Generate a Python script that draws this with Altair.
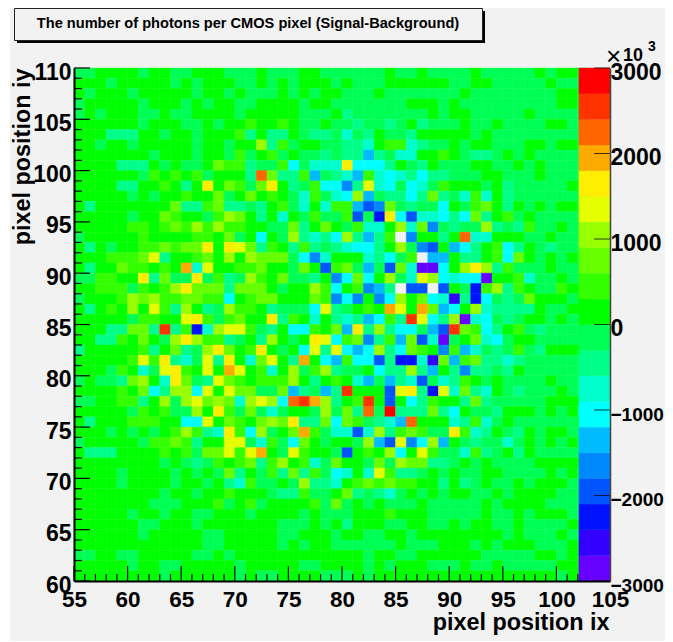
import altair as alt
import pandas as pd

LEFT = [
"--....-..--...---.---..-",
"...-.....-.-...--.-.-...",
".-...-.....-..-.---.-.-.",
"-.....-...-.-..--....-..",
"-.-...--.--....-.....---",
"......-...--.-..1..1.--.",
"...===..-..-...1=.==.-==",
"..-..-.....-..-..3=1-..-",
".......-...-..-1-.1-.--=",
"....===.-.--.211=--1c-hh",
"......-1.1.1-...=72==1f-",
"....==..1.=.5.21-25.=-1c",
".....-.-..1..2-.2.1.-h1-",
".=.......2==12==-=.1-h.h",
".....-..21..-132.=.h.-1-",
".....11.12131311..--2=.2",
"-.....1....11.2-.c.-3=h=",
".=.-..1121225.542=1.=1=-",
"...11124=..12.3.3222-ceh",
".=..211.1.6h4..112..-2.d",
"--11..5=2--5-1=-31.2--=.",
"..111-1.135222=222.-..31",
"-...1323112211c.122...21",
".=.1.3.41=3.=-311.=---c4",
".....-11..451-12..5=1.h.",
"...==22=8=1bh3441-=.cc1.",
"..==1.2.-35311=-.=3.-.54",
"=.....1=.2=-352.15.-.c4=",
".....1415=h-4=5.h24.=6.c",
"...-1.h-451.4.64.1h.3-13",
"-.--=23.h52-=421.1113.=.",
"....1.2c=33c4.422--2f=-f",
"--..11=.3-34232h343c7863",
".....-1.1--3.51-2-h-..-3",
".=...111..cc4.21.2325==2",
"...-.-.-.131=h51c3-.261-",
"-.....-1121=..44-h1-c2.-",
".===....1.1-224146.-41..",
"........-.-=-1.12=13.1h-",
"....-....-.-.-2=.-1=2=1-",
"....-....-..-.=h1--.-3==",
"........-..-..1...-==1--",
".......---...1-.1-....1-",
".....-..-..--...-....-.-",
"......--...-.......---.-",
"......-.....--.....--...",
"............--.....-.-..",
"--..--.....--.-.........",
".....-..--.....-.....--.",
"........-......-.--....-",
]

RIGHT = [
"-----.--.----.-----.-..-",
"-.---......--..-----.---",
".---.-------.--------..-",
"-------...-.---------..-",
".=-------.-..-----.-----",
"--=--=-.=---.--.----..--",
"-h-=.--=.....-.---------",
"-==h.11h=--.-..---..-..-",
"-==f=-hh..1.-==-.-.-----",
"h5ccc=.-=.---..--.-.----",
"=hf1hch=c==---..---.----",
"ce=4hc-ch-1...-.=-----.-",
"hc3f-==c=2=-h1h.=-------",
"11fde2-=--c.-12.=.-.-..-",
"-1d-b5cdhhc=c2=.1-.-----",
".-1hh.3h2e-=--3=-=1--.--",
"c3=f=1we..=.7hh...--.---",
"=hcc=.3-ed.fc=.1c=.-=---",
"...h=c-1wff.==.1c2.-.-.-",
"12-f-d2hvvc.353=1---.---",
"ec2c.3-h43chccv..1h--.--",
"c.1ef=wddwd.-b13=1.--1..",
"ece.ec3.2chp=bc-=-2...-.",
"=-.1.64.62fc.3h====.--..",
"=h=fc1=84c=3vhc-=-..-.--",
"2f5=3=cc-fd821c=.1-=----",
"c12e=1f2dhv-.2hc-..-----",
"4cfc3=c21.e1fh-=-1-=....",
"f1ccd=bbhp2f12==h=------",
"=--.c==3=f.=e==-=.------",
"1.hf-f=hd-h=1.-.----.---",
"=8...d45=b4h2=h.-=---.--",
"=.18.d.c=1..=2=-----....",
"-2=7-9===2=c.--=...-.-.-",
"c21-=hf7...h=1h-.------.",
"hhdh3=121--51h=.-=.-..--",
"..-3fd4ec3f.-=--h-.-.-.-",
"-d.1.3c.41--h1=-.=.-----",
"2..-2-322==-.-.----.....",
"ch.h41==-.-.--..----.-.-",
"h.121211..=.=-.--.-...--",
".2=-=h-.-.-..--.-....---",
"2-.-.---.-----.-....----",
"--...1...-----.--.-...--",
".=...--..--.-..--.----..",
"-..--..-........-.---.--",
"------.---...-.-...---..",
"...-..--......-----..-..",
"...-.-...---.--.-----...",
"--.-.................-..",
]

LEVEL_KEYS = "wvpbdefch=-.123456789"
LEVEL_VALUES = [-3300] + [-3150 + 300 * i for i in range(1, len(LEVEL_KEYS))]
VALUE_OF = dict(zip(LEVEL_KEYS, LEVEL_VALUES))

THRESHOLDS = [-3000, -2700, -2400, -2100, -1800, -1500, -1200, -900, -600, -300,
              0, 300, 600, 900, 1200, 1500, 1800, 2100, 2400, 2700]
COLOURS = ["#f2f2f2", "#6600ff", "#3300ff", "#0011ff", "#0055ff", "#0088ff", "#00bbff",
           "#00ffff", "#00ffcc", "#00ff88", "#00ff55", "#00ff00", "#33ff00", "#66ff00",
           "#99ff00", "#e6ff00", "#ffee00", "#ffaa00", "#ff6600", "#ff3300", "#ff0000"]

cells = []
for r, (a, b) in enumerate(zip(LEFT, RIGHT)):
    for k, ch in enumerate(a + b):
        cells.append({"x0": 55 + k, "x1": 56 + k, "y0": 109 - r, "y1": 110 - r, "v": VALUE_OF[ch]})
df = pd.DataFrame(cells)

bar = pd.DataFrame({"lo": THRESHOLDS,
                    "hi": THRESHOLDS[1:] + [3000],
                    "x0": [102.1] * 20, "x1": [105] * 20})
bar["v"] = bar["lo"] + 150

FONT = "Liberation Sans"
W, H = 536, 513
xs = alt.Scale(domain=[55, 105], nice=False, zero=False)
ys = alt.Scale(domain=[60, 110], nice=False, zero=False)
zs = alt.Scale(domain=[-3000, 3000], nice=False, zero=False)
cs = alt.Scale(type="threshold", domain=THRESHOLDS, range=COLOURS)

X_MAJOR = list(range(55, 105, 5))
X_MINOR = [v for v in range(55, 103) if v % 5]
Y_MAJOR = list(range(60, 115, 5))
Y_MINOR = [v for v in range(60, 110) if v % 5]
Z_MAJOR = [-3000, -2000, -1000, 0, 1000, 2000, 3000]

backdrop = alt.Chart(pd.DataFrame({"a": [0]})).mark_rect(color="#f2f2f2").encode(
    x=alt.value(10 - 74), x2=alt.value(673 - 74), y=alt.value(6 - 68), y2=alt.value(642 - 68))

heat = alt.Chart(df).mark_rect(strokeWidth=0.4).encode(
    x=alt.X("x0:Q", scale=xs, axis=alt.Axis(
        values=list(range(55, 110, 5)), tickSize=0, grid=False, format="d",
        domainColor="black", domainWidth=2, zindex=1,
        labelFont=FONT, labelFontWeight="bold", labelFontSize=22.5, labelColor="black",
        labelPadding=7, labelFlush=False, labelOverlap=False,
        title="pixel position ix", titleFont=FONT, titleFontWeight="bold", titleFontSize=23.4,
        titleColor="black", titleX=535, titleY=41, titleAlign="right", titleBaseline="middle")),
    x2="x1:Q",
    y=alt.Y("y0:Q", scale=ys, axis=alt.Axis(
        values=Y_MAJOR, tickSize=0, grid=False, format="d",
        domainColor="black", domainWidth=2, zindex=1,
        labelFont=FONT, labelFontWeight="bold", labelFontSize=23, labelColor="black",
        labelPadding=3, labelOffset=4, labelFlush=False, labelOverlap=False,
        title="pixel position iy", titleFont=FONT, titleFontWeight="bold", titleFontSize=23.4,
        titleColor="black", titleX=-52, titleY=0, titleAngle=270, titleAlign="right",
        titleBaseline="middle")),
    y2="y1:Q",
    color=alt.Color("v:Q", scale=cs, legend=None),
    stroke=alt.Color("v:Q", scale=cs, legend=None),
)


def xticks(vals, length):
    return alt.Chart(pd.DataFrame({"t": vals})).mark_rule(color="black", strokeWidth=1.2).encode(
        x=alt.X("t:Q", scale=xs, axis=None), y=alt.value(H), y2=alt.value(H - length))


def yticks(vals, length):
    return alt.Chart(pd.DataFrame({"t": vals})).mark_rule(color="black", strokeWidth=1.2).encode(
        y=alt.Y("t:Q", scale=ys, axis=None), x=alt.value(0), x2=alt.value(length))


palette = alt.Chart(bar).mark_rect(strokeWidth=0.4).encode(
    x=alt.X("x0:Q", scale=xs, axis=None), x2="x1:Q",
    y=alt.Y("lo:Q", scale=zs, axis=alt.Axis(
        orient="right", values=Z_MAJOR, tickSize=0, grid=False, format="d",
        domainColor="#444444", domainWidth=1.5, zindex=1,
        labelFont=FONT, labelFontWeight="bold",
        labelFontSize={"condition": {"test": "datum.value < 0", "value": 19}, "value": 23},
        labelColor="black",
        labelPadding=0, labelOffset=4, labelFlush=False, labelOverlap=False, title=None)),
    y2="hi:Q",
    color=alt.Color("v:Q", scale=cs, legend=None),
    stroke=alt.Color("v:Q", scale=cs, legend=None),
)

palette_ticks = alt.Chart(pd.DataFrame({"t": Z_MAJOR})).mark_rule(color="black", strokeWidth=1.0, opacity=0.75).encode(
    y=alt.Y("t:Q", scale=zs, axis=None), x=alt.value(W - 16), x2=alt.value(W))


def label(text, px, py, size, bold=True, align="left"):
    return alt.Chart(pd.DataFrame({"t": [text]})).mark_text(
        font=FONT, fontSize=size, fontWeight="bold" if bold else "normal", color="black",
        align=align, baseline="middle").encode(
        text="t:N", x=alt.value(px - 74), y=alt.value(py - 68))


shadow = alt.Chart(pd.DataFrame({"a": [0]})).mark_rect(color="black").encode(
    x=alt.value(17 - 74), x2=alt.value(485 - 74), y=alt.value(11 - 68), y2=alt.value(43 - 68))
box = alt.Chart(pd.DataFrame({"a": [0]})).mark_rect(color="#f2f2f2", stroke="#222222", strokeWidth=1).encode(
    x=alt.value(14.5 - 74), x2=alt.value(482.5 - 74), y=alt.value(8.5 - 68), y2=alt.value(40.5 - 68))

chart = alt.layer(
    backdrop, heat,
    xticks(X_MAJOR, 15), xticks(X_MINOR, 7),
    yticks(Y_MAJOR, 16), yticks(Y_MINOR, 8),
    palette, palette_ticks,
    shadow, box,
    label("The number of photons per CMOS pixel (Signal-Background)", 248, 24, 14.6, align="center"),
    label("×", 606, 57, 26, bold=False),
    label("10", 623, 56, 18, bold=True),
    label("3", 648, 47, 14, bold=True),
).resolve_scale(y="independent").resolve_axis(x="independent").properties(
    width=W, height=H,
    autosize=alt.AutoSizeParams(type="none"),
    padding={"left": 66, "top": 60, "right": 55, "bottom": 60},
    background="white",
).configure_view(stroke=None)

chart.save("out.html", embed_options={"renderer": "svg", "actions": False})
